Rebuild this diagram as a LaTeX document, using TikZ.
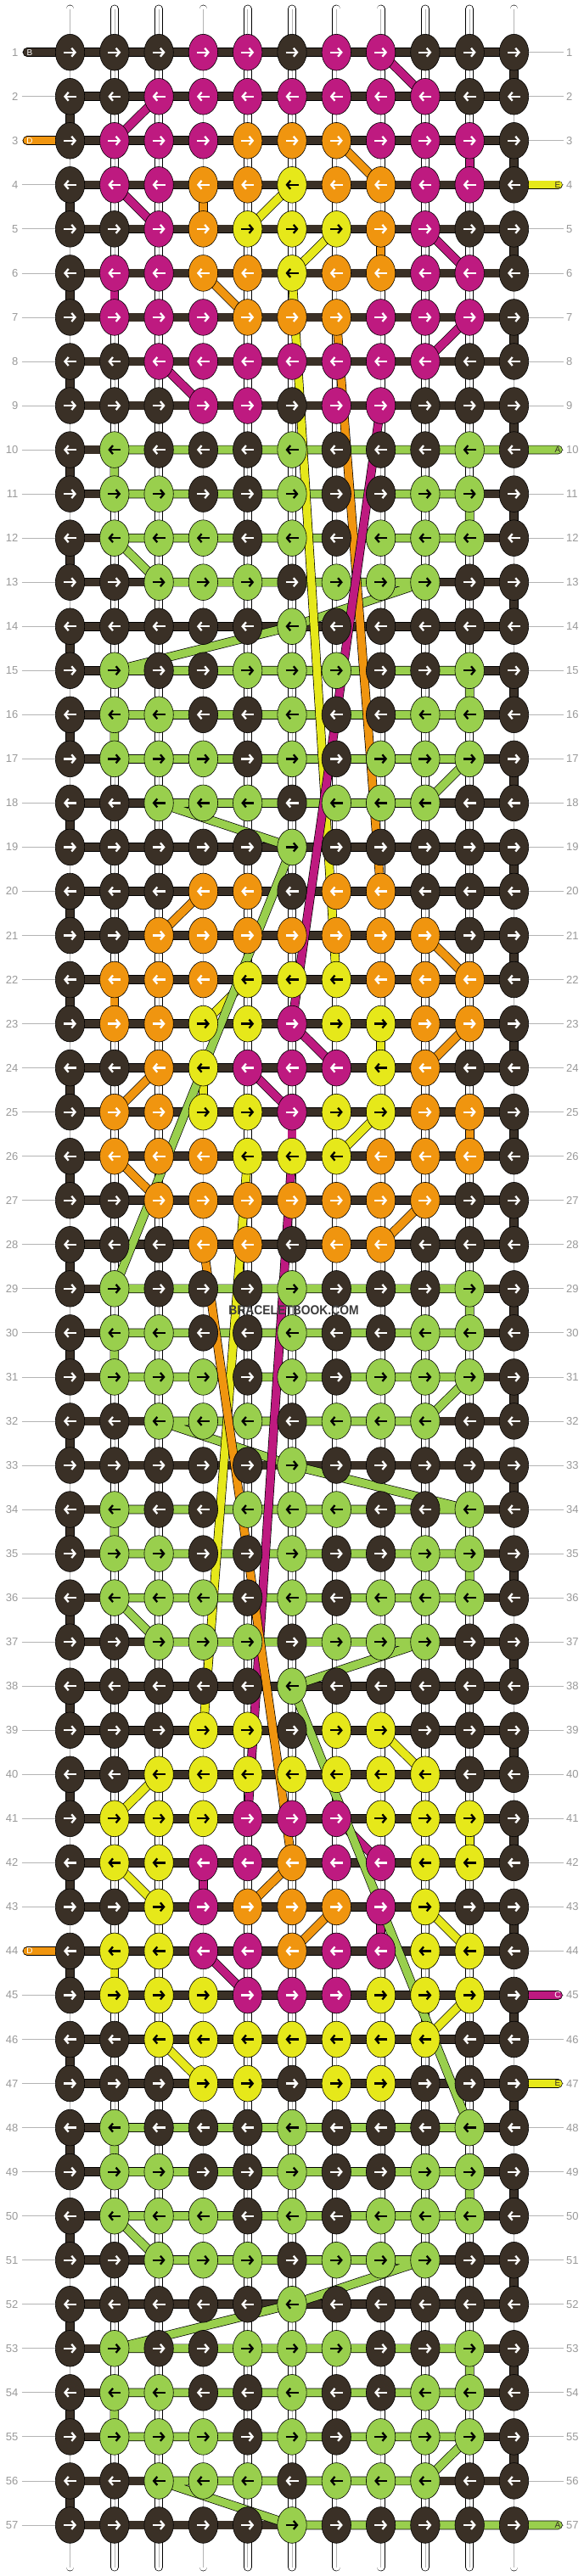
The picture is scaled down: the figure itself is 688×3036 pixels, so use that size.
\documentclass[tikz,border=0pt]{standalone}
\usepackage{fontspec}
\setmainfont{Liberation Sans}
\usepackage{tikz}
\usetikzlibrary{arrows.meta,shapes.geometric}

\definecolor{cB}{HTML}{3A3026}
\definecolor{cA}{HTML}{99CF4D}
\definecolor{cC}{HTML}{BE1A80}
\definecolor{cD}{HTML}{F0950F}
\definecolor{cE}{HTML}{E6E81A}
\colorlet{aB}{white}
\colorlet{aA}{black}
\colorlet{aC}{white}
\colorlet{aD}{white}
\colorlet{aE}{black}
\definecolor{numgray}{HTML}{9A9A9A}
\definecolor{linegray}{HTML}{B4B4B4}
\definecolor{wmgray}{HTML}{3C3C3C}

\begin{document}
\begin{tikzpicture}[x=1pt, y=-1pt,
    knot/.style={ellipse, draw=black, line width=0.6pt, minimum width=34.4pt, minimum height=42.7pt, inner sep=0pt},
    knotarrow/.style={line width=2.3pt, -{Straight Barb[length=4.2pt,width=10pt]}},
    strand/.style={draw=black, line width=0.7pt, double=#1, double distance=9.2pt, line cap=round, line join=round},
    basestring/.style={draw=black, line width=0.7pt, double=white, double distance=8.4pt, line cap=round},
    rownum/.style={text=numgray, font=\fontsize{13}{13}\selectfont, inner sep=0pt},
    rowline/.style={draw=linegray, line width=0.8pt},
    stubtag/.style={font=\fontsize{10}{10}\selectfont, inner sep=0pt}]
  \useasboundingbox (0,0) rectangle (688,3036);
  \fill[white] (0,0) rectangle (688,3036);

  \foreach \r in {1,...,57}{
    \coordinate (ml_\r) at (21.5,{61.7+52.04*(\r-1)});
    \coordinate (mr_\r) at (667,{61.7+52.04*(\r-1)});
    \coordinate (sl_\r) at (32,{61.7+52.04*(\r-1)});
    \coordinate (sr_\r) at (657.5,{61.7+52.04*(\r-1)});
    \foreach \c in {1,...,11}
      \coordinate (p_\r_\c) at ({82.5+52.3*(\c-1)},{61.7+52.04*(\r-1)});
  }
  \foreach \c in {1,...,11}{
    \coordinate (top_\c) at ({82.5+52.3*(\c-1)},10.5);
    \coordinate (bot_\c) at ({82.5+52.3*(\c-1)},3025.5);
  }

  \foreach \r in {1,...,57}{
    \node[rownum, anchor=east] (nl_\r) at (ml_\r) {\r};
    \node[rownum, anchor=west] (nr_\r) at (mr_\r) {\r};
    \draw[rowline] ([xshift=4pt]nl_\r.east) -- (p_\r_1);
    \draw[rowline] (p_\r_11) -- ([xshift=-3pt]nr_\r.west);
  }

  \foreach \c in {1,...,11}{
    \draw[basestring] (top_\c) -- (bot_\c);
    \draw[linegray, line width=0.5pt] (top_\c) -- (bot_\c);
  }

  \draw[strand=cB] (sl_1) \foreach \r [evaluate=\r as \s using int(\r+1)] in {1,3,...,55} { -- (p_\r_1) -- (p_\r_11) -- (p_\s_11) -- (p_\s_1) } -- (p_57_1) -- (p_57_11);
  \draw[strand=cD] (sl_3) -- (p_3_1);
  \draw[strand=cD] (sl_44) -- (p_44_1);
  \draw[strand=cE] (p_4_11) -- (sr_4);
  \draw[strand=cC] (p_45_11) -- (sr_45);
  \draw[strand=cE] (p_47_11) -- (sr_47);

  \foreach \ra/\ca/\rb/\cb/\scol in {1/8/2/9/cC, 2/3/3/2/cC, 3/10/4/10/cC, 4/2/5/3/cC, 5/9/6/10/cC, 6/2/7/2/cC, 7/10/8/9/cC, 8/3/9/4/cC,
      3/7/4/8/cD, 4/4/5/4/cD, 5/8/6/8/cD, 6/4/7/5/cD, 4/6/5/5/cE, 5/7/6/6/cE,
      20/4/21/3/cD, 21/9/22/10/cD, 22/2/23/2/cD, 23/10/24/9/cD, 24/3/25/2/cD, 25/10/26/10/cD, 26/2/27/3/cD, 27/9/28/8/cD,
      22/5/23/4/cE, 23/8/24/8/cE, 24/4/25/4/cE, 25/8/26/7/cE, 23/6/24/7/cC, 24/5/25/6/cC, 25/6/26/6/cC,
      39/8/40/9/cE, 40/3/41/2/cE, 41/10/42/10/cE, 42/2/43/3/cE, 43/9/44/10/cE, 44/2/45/2/cE, 45/10/46/9/cE, 46/3/47/4/cE,
      41/7/42/8/cC, 42/4/43/4/cC, 43/8/44/8/cC, 44/4/45/5/cC, 42/6/43/5/cD, 43/7/44/6/cD}
    \draw[strand=\scol] (p_\ra_\ca) -- (p_\rb_\cb);

  \draw[strand=cA] (sr_10) -- (p_10_2) -- (p_11_2) -- (p_11_10) -- (p_12_10) -- (p_12_2) -- (p_13_3) -- (p_13_9) -- (p_14_6) -- (p_15_2) -- (p_15_10) -- (p_16_10) -- (p_16_2) -- (p_17_2) -- (p_17_10) -- (p_18_9) -- (p_18_3) -- (p_19_6);
  \draw[strand=cA] (p_29_2) -- (p_29_10) -- (p_30_10) -- (p_30_2) -- (p_31_2) -- (p_31_10) -- (p_32_9) -- (p_32_3) -- (p_33_6) -- (p_34_10) -- (p_34_2) -- (p_35_2) -- (p_35_10) -- (p_36_10) -- (p_36_2) -- (p_37_3) -- (p_37_9) -- (p_38_6);
  \draw[strand=cA] (p_48_10) -- (p_48_2) -- (p_49_2) -- (p_49_10) -- (p_50_10) -- (p_50_2) -- (p_51_3) -- (p_51_9) -- (p_52_6) -- (p_53_2) -- (p_53_10) -- (p_54_10) -- (p_54_2) -- (p_55_2) -- (p_55_10) -- (p_56_9) -- (p_56_3) -- (p_57_6) -- (sr_57);

  \draw[strand=cE] (p_6_6) -- (p_22_7);
  \draw[strand=cD] (p_7_7) -- (p_20_8);
  \draw[strand=cC] (p_9_8) -- (p_23_6);
  \draw[strand=cA] (p_19_6) -- (p_29_2);
  \draw[strand=cE] (p_26_5) -- (p_39_4);
  \draw[strand=cC] (p_26_6) -- (p_41_5);
  \draw[strand=cD] (p_28_4) -- (p_42_6);
  \draw[strand=cA] (p_38_6) -- (p_48_10);

  \foreach \row [count=\r] in {
      {B,B,B,C,C,B,C,C,B,B,B}, {B,B,C,C,C,C,C,C,C,B,B}, {B,C,C,C,D,D,D,C,C,C,B},
      {B,C,C,D,D,E,D,D,C,C,B}, {B,B,C,D,E,E,E,D,C,B,B}, {B,C,C,D,D,E,D,D,C,C,B},
      {B,C,C,C,D,D,D,C,C,C,B}, {B,B,C,C,C,C,C,C,C,B,B}, {B,B,B,C,C,B,C,C,B,B,B},
      {B,A,B,B,B,A,B,B,B,A,B}, {B,A,A,B,B,A,B,B,A,A,B}, {B,A,A,A,B,A,B,A,A,A,B},
      {B,B,A,A,A,B,A,A,A,B,B}, {B,B,B,B,B,A,B,B,B,B,B}, {B,A,B,B,A,A,A,B,B,A,B},
      {B,A,A,B,B,A,B,B,A,A,B}, {B,A,A,A,B,A,B,A,A,A,B}, {B,B,A,A,A,B,A,A,A,B,B},
      {B,B,B,B,B,A,B,B,B,B,B}, {B,B,B,D,D,B,D,D,B,B,B}, {B,B,D,D,D,D,D,D,D,B,B},
      {B,D,D,D,E,E,E,D,D,D,B}, {B,D,D,E,E,C,E,E,D,D,B}, {B,B,D,E,C,C,C,E,D,B,B},
      {B,D,D,E,E,C,E,E,D,D,B}, {B,D,D,D,E,E,E,D,D,D,B}, {B,B,D,D,D,D,D,D,D,B,B},
      {B,B,B,D,D,B,D,D,B,B,B}, {B,A,B,B,B,A,B,B,B,A,B}, {B,A,A,B,B,A,B,B,A,A,B},
      {B,A,A,A,B,A,B,A,A,A,B}, {B,B,A,A,A,B,A,A,A,B,B}, {B,B,B,B,B,A,B,B,B,B,B},
      {B,A,B,B,A,A,A,B,B,A,B}, {B,A,A,B,B,A,B,B,A,A,B}, {B,A,A,A,B,A,B,A,A,A,B},
      {B,B,A,A,A,B,A,A,A,B,B}, {B,B,B,B,B,A,B,B,B,B,B}, {B,B,B,E,E,B,E,E,B,B,B},
      {B,B,E,E,E,E,E,E,E,B,B}, {B,E,E,E,C,C,C,E,E,E,B}, {B,E,E,C,C,D,C,C,E,E,B},
      {B,B,E,C,D,D,D,C,E,B,B}, {B,E,E,C,C,D,C,C,E,E,B}, {B,E,E,E,C,C,C,E,E,E,B},
      {B,B,E,E,E,E,E,E,E,B,B}, {B,B,B,E,E,B,E,E,B,B,B}, {B,A,B,B,B,A,B,B,B,A,B},
      {B,A,A,B,B,A,B,B,A,A,B}, {B,A,A,A,B,A,B,A,A,A,B}, {B,B,A,A,A,B,A,A,A,B,B},
      {B,B,B,B,B,A,B,B,B,B,B}, {B,A,B,B,A,A,A,B,B,A,B}, {B,A,A,B,B,A,B,B,A,A,B},
      {B,A,A,A,B,A,B,A,A,A,B}, {B,B,A,A,A,B,A,A,A,B,B}, {B,B,B,B,B,A,B,B,B,B,B}}{
    \foreach \k [count=\c] in \row {
      \node[knot, fill=c\k] (k_\r_\c) at (p_\r_\c) {};
      \ifodd\r
        \draw[knotarrow, draw=a\k] ([xshift=-7.5pt]k_\r_\c.center) -- ([xshift=7.5pt]k_\r_\c.center);
      \else
        \draw[knotarrow, draw=a\k] ([xshift=7.5pt]k_\r_\c.center) -- ([xshift=-7.5pt]k_\r_\c.center);
      \fi
    }
  }

  \node[stubtag, text=white] (tag_1) at (35,61.7) {B};
  \node[stubtag, text=white] (tag_3) at (35,165.8) {D};
  \node[stubtag, text=white] (tag_44) at (35,2299.4) {D};
  \node[stubtag, text=cB] (tag_4) at (657,217.8) {E};
  \node[stubtag, text=cB] (tag_10) at (657,530.1) {A};
  \node[stubtag, text=white] (tag_45) at (657,2351.5) {C};
  \node[stubtag, text=cB] (tag_47) at (657,2455.5) {E};
  \node[stubtag, text=cB] (tag_57) at (657,2975.9) {A};

  \node[font=\bfseries\fontsize{15.4}{15.4}\selectfont, text=wmgray, xscale=0.9] (wm) at (346,1544) {BRACELETBOOK.COM};
\end{tikzpicture}
\end{document}
